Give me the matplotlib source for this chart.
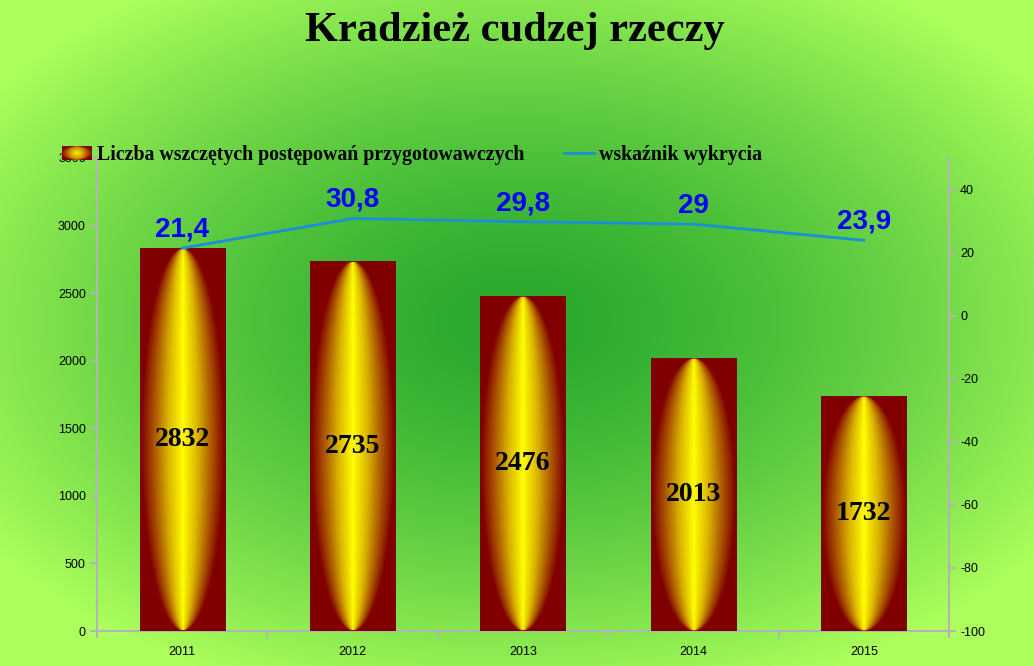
import numpy as np
import matplotlib
matplotlib.use("Agg")
import matplotlib.pyplot as plt
from matplotlib.colors import LinearSegmentedColormap
from matplotlib.patches import Rectangle, Ellipse
from matplotlib.lines import Line2D
from matplotlib.legend_handler import HandlerBase

plt.rcParams["axes.unicode_minus"] = False

years = ["2011", "2012", "2013", "2014", "2015"]
cases = [2832, 2735, 2476, 2013, 1732]
detect = [21.4, 30.8, 29.8, 29, 23.9]
detect_labels = ["21,4", "30,8", "29,8", "29", "23,9"]

bar_name = "Liczba wszczętych postępowań przygotowawczych"
line_name = "wskaźnik wykrycia"

W, H = 1034, 666
fig = plt.figure(figsize=(W / 100, H / 100), dpi=100)

# background radial gradient
bg = fig.add_axes([0, 0, 1, 1])
bg.set_axis_off()
yy, xx = np.mgrid[0:H, 0:W]
r = np.sqrt(((xx - 517) / 640.0) ** 2 + ((yy - 320) / 400.0) ** 2)
r = np.clip(r, 0, 1) ** 1.4
c0 = np.array([40, 168, 45]) / 255
c1 = np.array([172, 255, 92]) / 255
img = c0[None, None, :] * (1 - r[..., None]) + c1[None, None, :] * r[..., None]
bg.imshow(img, extent=(0, 1, 0, 1), aspect="auto", origin="upper")
bg.set_xlim(0, 1)
bg.set_ylim(0, 1)

bar_cmap = LinearSegmentedColormap.from_list(
    "barg", [(0, "#ffff00"), (0.1, "#f4e800"), (0.35, "#dab400"),
             (0.65, "#b06000"), (1, "#800000")])

ax = fig.add_axes([97 / W, 1 - 631 / H, 852 / W, (631 - 158) / H])
ax.patch.set_visible(False)
x = np.arange(len(years))
bw = 0.5
bars = ax.bar(x, cases, width=bw, color="#800000", zorder=2)

# elliptical gradient inside each bar
gy, gx = np.mgrid[1:-1:400j, -1:1:160j]
half = np.sqrt(np.clip(1 - gy ** 2, 1e-6, 1)) * 0.98
gr = np.clip(np.abs(gx) / half, 0, 1)
grad = bar_cmap(gr)
for b in bars:
    ax.imshow(grad, extent=(b.get_x(), b.get_x() + b.get_width(), 0, b.get_height()),
              aspect="auto", zorder=3, interpolation="bilinear", origin="upper")

for xi, v in zip(x, cases):
    ax.text(xi, v / 2, str(v), ha="center", va="center", fontsize=20,
            fontweight="bold", family="Liberation Serif", color="black", zorder=4)

ax.set_xlim(-0.5, len(years) - 0.5)
ax.set_ylim(0, 3500)
ax.set_yticks(np.arange(0, 3501, 500))
ax.set_xticks(x)
ax.set_xticklabels(years)
ax.set_xticks(np.arange(-0.5, len(years), 1), minor=True)
ax.tick_params(axis="x", which="major", length=0, pad=11)
ax.tick_params(axis="x", which="minor", length=5, color="#b4b4b4", width=1.5)
ax.tick_params(axis="y", length=5, color="#b4b4b4", width=1.5, pad=3)

ax2 = ax.twinx()
ax2.patch.set_visible(False)
ax2.plot(x, detect, color="#1a8fdc", lw=2, zorder=5)
for xi, v, lab in zip(x, detect, detect_labels):
    ax2.annotate(lab, (xi, v), xytext=(0, 4), textcoords="offset points",
                 ha="center", va="bottom", fontsize=20, fontweight="bold",
                 family="Liberation Sans", color="#0000ff")
ax2.set_ylim(-100, 50)
ax2.set_yticks(np.arange(-100, 41, 20))
ax2.tick_params(axis="y", length=5, color="#b4b4b4", width=1.5, pad=3)

for a in (ax, ax2):
    a.spines["top"].set_visible(False)
    for s in ("left", "right", "bottom"):
        a.spines[s].set_color("#b4b4b4")
        a.spines[s].set_linewidth(1.5)
    for lab in a.get_xticklabels() + a.get_yticklabels():
        lab.set_family("Liberation Sans")
        lab.set_fontsize(9)
ax.spines["right"].set_visible(False)
ax2.spines["left"].set_visible(False)
ax2.spines["bottom"].set_visible(False)


class GradHandler(HandlerBase):
    def create_artists(self, legend, orig, xd, yd, width, height, fontsize, trans):
        arts = [Rectangle((-xd, -yd), width, height, facecolor="#800000",
                          edgecolor="none", transform=trans)]
        for k in np.linspace(1, 0.1, 10):
            arts.append(Ellipse((-xd + width / 2, -yd + height / 2), width * k,
                                height * min(1, k * 1.6), facecolor=bar_cmap(k * 0.9),
                                edgecolor="none", transform=trans))
        return arts


bar_handle = Rectangle((0, 0), 1, 1, color="#800000")
line_handle = Line2D([0], [0], color="#1a8fdc", lw=2)
leg = fig.legend([bar_handle, line_handle], [bar_name, line_name],
                 handler_map={Rectangle: GradHandler()},
                 loc="center left", bbox_to_anchor=(62 / W, 1 - 155 / H),
                 ncol=2, frameon=False, borderpad=0, borderaxespad=0,
                 handlelength=1.5, handleheight=0.65, handletextpad=0.25,
                 columnspacing=2.0,
                 prop={"family": "Liberation Serif", "weight": "bold", "size": 14.3})

fig.text(515 / W, 1 - 31 / H, "Kradzież cudzej rzeczy", ha="center", va="center",
         fontsize=30.5, fontweight="bold", family="Liberation Serif", color="black")

fig.savefig("out.png", dpi=100)
